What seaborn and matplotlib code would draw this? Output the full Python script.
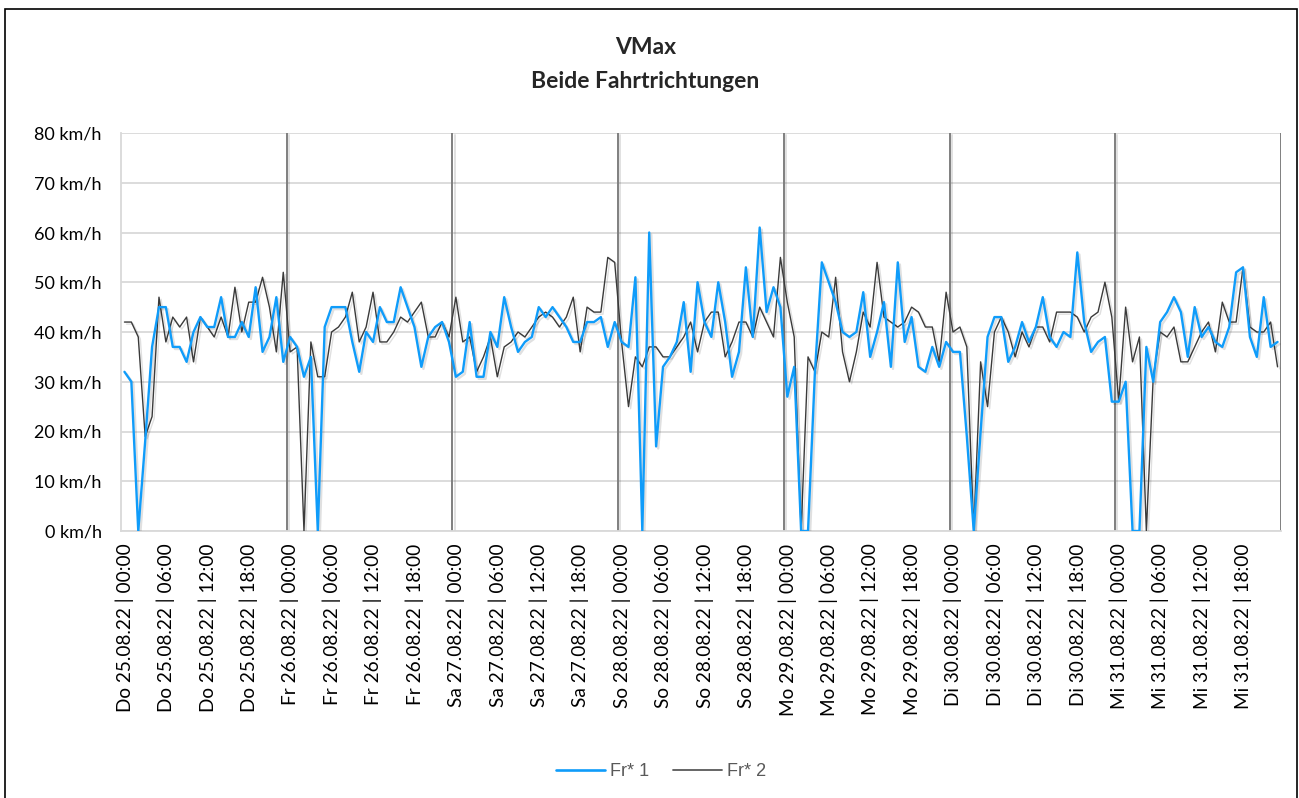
import numpy as np
import pandas as pd
import seaborn as sns
import matplotlib.pyplot as plt
import matplotlib.patheffects as pe
from matplotlib.patches import Rectangle
from matplotlib.lines import Line2D

# Tage und Stunden
days = ["Do 25.08.22", "Fr 26.08.22", "Sa 27.08.22", "So 28.08.22",
        "Mo 29.08.22", "Di 30.08.22", "Mi 31.08.22"]
hours = ["%02d:00" % h for h in range(24)]

# VMax je Stunde, Fahrtrichtung 1
fr1_do = [32, 30, 0, 18, 37, 45, 45, 37, 37, 34, 40, 43, 41, 41, 47, 39, 39, 42, 39, 49, 36, 39, 47, 34]
fr1_fr = [39, 37, 31, 35, 0, 41, 45, 45, 45, 38, 32, 40, 38, 45, 42, 42, 49, 45, 41, 33, 39, 41, 42, 38]
fr1_sa = [31, 32, 42, 31, 31, 40, 37, 47, 41, 36, 38, 39, 45, 43, 45, 43, 41, 38, 38, 42, 42, 43, 37, 42]
fr1_so = [38, 37, 51, 0, 60, 17, 33, 35, 38, 46, 32, 50, 42, 39, 50, 42, 31, 36, 53, 39, 61, 44, 49, 45]
fr1_mo = [27, 33, 0, 0, 32, 54, 50, 46, 40, 39, 40, 48, 35, 40, 46, 33, 54, 38, 43, 33, 32, 37, 33, 38]
fr1_di = [36, 36, 19, 0, 20, 39, 43, 43, 34, 37, 42, 38, 41, 47, 39, 37, 40, 39, 56, 42, 36, 38, 39, 26]
fr1_mi = [26, 30, 0, 0, 37, 30, 42, 44, 47, 44, 35, 45, 39, 41, 38, 37, 41, 52, 53, 39, 35, 47, 37, 38]

# VMax je Stunde, Fahrtrichtung 2
fr2_do = [42, 42, 39, 19, 23, 47, 38, 43, 41, 43, 34, 43, 41, 39, 43, 39, 49, 40, 46, 46, 51, 45, 36, 52]
fr2_fr = [36, 37, 0, 38, 31, 31, 40, 41, 43, 48, 38, 41, 48, 38, 38, 40, 43, 42, 44, 46, 39, 39, 42, 39]
fr2_sa = [47, 38, 39, 32, 35, 39, 31, 37, 38, 40, 39, 41, 43, 44, 43, 41, 43, 47, 36, 45, 44, 44, 55, 54]
fr2_so = [38, 25, 35, 33, 37, 37, 35, 35, 37, 39, 42, 36, 42, 44, 44, 35, 38, 42, 42, 39, 45, 42, 39, 55]
fr2_mo = [46, 39, 0, 35, 32, 40, 39, 51, 36, 30, 36, 44, 41, 54, 43, 42, 41, 42, 45, 44, 41, 41, 34, 48]
fr2_di = [40, 41, 37, 0, 34, 25, 40, 43, 40, 35, 40, 37, 41, 41, 38, 44, 44, 44, 43, 40, 43, 44, 50, 43]
fr2_mi = [26, 45, 34, 39, 0, 31, 40, 39, 41, 34, 34, 37, 40, 42, 36, 46, 42, 42, 53, 41, 40, 40, 42, 33]

fr1 = fr1_do + fr1_fr + fr1_sa + fr1_so + fr1_mo + fr1_di + fr1_mi
fr2 = fr2_do + fr2_fr + fr2_sa + fr2_so + fr2_mo + fr2_di + fr2_mi
labels = [d + " | " + h for d in days for h in hours]

df = pd.DataFrame({"idx": np.arange(len(labels)), "label": labels, "Fr* 1": fr1, "Fr* 2": fr2})

blue = "#0F9CFA"
dark = "#3a3a3a"

sns.set_style("white")
plt.rcParams['font.family'] = ['Lato', 'DejaVu Sans']

fig = plt.figure(figsize=(12.99, 7.98), dpi=100)
ax = fig.add_axes([121 / 1299, 1 - 531 / 798, (1281 - 121) / 1299, (531 - 133) / 798])

shadow = [pe.SimpleLineShadow(offset=(1.5, -1.5), alpha=0.12, shadow_color="black"), pe.Normal()]

# Tagesgrenzen
for k in range(1, 8):
    ax.axvline(k * 24 - 0.5, color="#7f7f7f", lw=1.4, zorder=2, path_effects=shadow)

sns.lineplot(data=df, x="idx", y="Fr* 1", color=blue, lw=1.7, ax=ax, zorder=4)
sns.lineplot(data=df, x="idx", y="Fr* 2", color=dark, lw=1.0, ax=ax, zorder=3)
for ln in ax.lines[-2:]:
    ln.set_path_effects(shadow)

ax.set_xlim(-0.5, len(labels) - 0.5)
ax.set_ylim(0, 80)
ax.set_yticks(range(0, 81, 10))
ax.set_yticklabels(["%d km/h" % v for v in range(0, 81, 10)])
ax.set_xticks(df["idx"][::6])
ax.set_xticklabels(df["label"][::6], rotation=90)
ax.set(xlabel="", ylabel="")
ax.grid(axis="y", color="#d9d9d9", lw=1.3)
ax.set_axisbelow(True)
for s in ["top", "right"]:
    ax.spines[s].set_visible(False)
for s in ["left", "bottom"]:
    ax.spines[s].set_color("#d9d9d9")
    ax.spines[s].set_linewidth(1.3)
ax.tick_params(axis="y", length=0, pad=14, labelsize=13, labelcolor="black")
ax.tick_params(axis="x", length=0, pad=9, labelsize=13.7, labelcolor="black")

# Titel
fig.text(0.497, 1 - 48 / 798, "VMax", ha="center", va="center", fontsize=16.5, fontweight="bold")
fig.text(0.497, 1 - 82 / 798, "Beide Fahrtrichtungen", ha="center", va="center", fontsize=16.5, fontweight="bold")

# Legende
handles = [Line2D([], [], color=blue, lw=1.9), Line2D([], [], color="#595959", lw=1.3)]
leg = fig.legend(handles, ["Fr* 1", "Fr* 2"], loc="center", bbox_to_anchor=(0.509, 1 - 772 / 798),
                 ncol=2, frameon=False, handlelength=2.7, handletextpad=0.3, columnspacing=1.3,
                 prop={"family": "Liberation Sans", "size": 13})
for t in leg.get_texts():
    t.set_color("#595959")

# Rahmen
fig.patches.append(Rectangle((5 / 1299, -0.02), 1292 / 1299, 1.02 - 8.5 / 798, transform=fig.transFigure,
                             fill=False, edgecolor="black", lw=1.2))

fig.savefig("out.png", dpi=100)
